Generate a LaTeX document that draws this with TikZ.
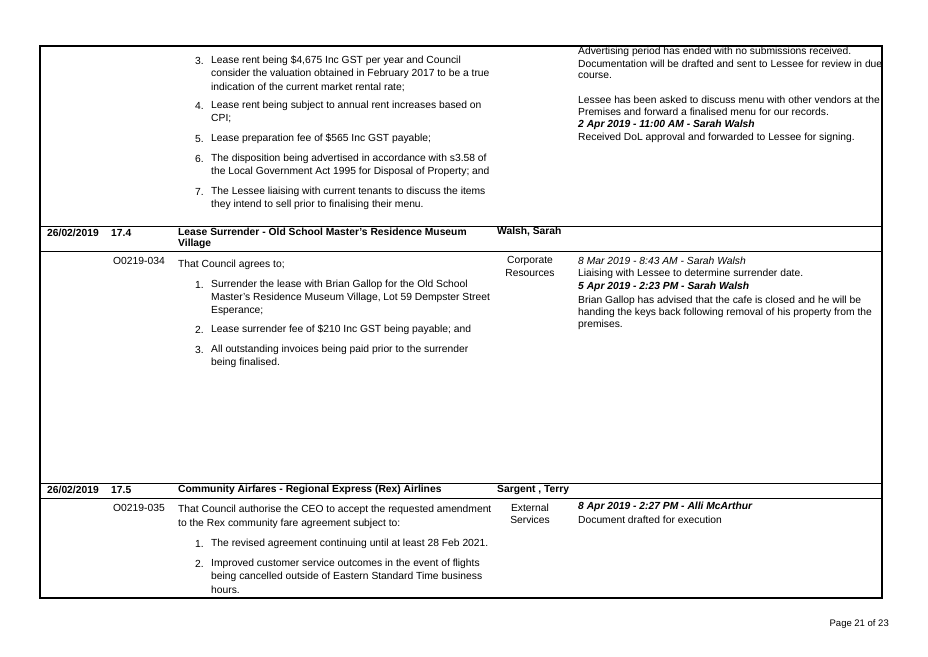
\documentclass[tikz,border=0pt]{standalone}
\usepackage{fontspec}
\setmainfont{Liberation Sans}
\begin{document}
\begin{tikzpicture}[x=1pt, y=-1pt]
    % Define styles
    \tikzset{
        txt/.style={anchor=west, inner sep=0pt, font=\fontsize{10.3}{12}\selectfont},
        hdr/.style={txt, font=\fontsize{10.3}{12}\selectfont\bfseries},
        note/.style={txt, font=\fontsize{10.3}{12}\selectfont\itshape},
        stamp/.style={txt, font=\fontsize{10.3}{12}\selectfont\bfseries\itshape},
        dept/.style={anchor=center, inner sep=0pt, font=\fontsize{10.3}{12}\selectfont},
        rule/.style={line width=0.8pt}
    }
    \useasboundingbox (0,0) rectangle (928,656);

    % Table frame and row rules
    \draw[line width=1.2pt] (40,46) rectangle (882,598);
    \draw[rule] (40,226) -- (882,226);
    \draw[rule] (40,251) -- (882,251);
    \draw[rule] (40,483) -- (882,483);
    \draw[rule] (40,498) -- (882,498);

    % Row 17.3 (continued)
    \foreach \n/\y in {a3/61, a4/106, a5/139, a6/159, a7/192}
        \coordinate (\n) at (195,\y);
    \node[txt] (n3) at (a3) {3.};
    \node[txt] (t3a) at (211,61) {Lease rent being \$4,675 Inc GST per year and Council};
    \node[txt] (t3b) at (211,74) {consider the valuation obtained in February 2017 to be a true};
    \node[txt] (t3c) at (211,87) {indication of the current market rental rate;};
    \node[txt] (n4) at (a4) {4.};
    \node[txt] (t4a) at (211,106) {Lease rent being subject to annual rent increases based on};
    \node[txt] (t4b) at (211,119) {CPI;};
    \node[txt] (n5) at (a5) {5.};
    \node[txt] (t5a) at (211,139) {Lease preparation fee of \$565 Inc GST payable;};
    \node[txt] (n6) at (a6) {6.};
    \node[txt] (t6a) at (211,159) {The disposition being advertised in accordance with s3.58 of};
    \node[txt] (t6b) at (211,172) {the Local Government Act 1995 for Disposal of Property; and};
    \node[txt] (n7) at (a7) {7.};
    \node[txt] (t7a) at (211,192) {The Lessee liaising with current tenants to discuss the items};
    \node[txt] (t7b) at (211,205) {they intend to sell prior to finalising their menu.};

    \node[txt] (c1) at (578,52) {Advertising period has ended with no submissions received.};
    \node[txt] (c2) at (578,64) {Documentation will be drafted and sent to Lessee for review in due};
    \node[txt] (c3) at (578,76) {course.};
    \node[txt] (c4) at (578,100) {Lessee has been asked to discuss menu with other vendors at the};
    \node[txt] (c5) at (578,112) {Premises and forward a finalised menu for our records.};
    \node[stamp] (c6) at (578,125) {2 Apr 2019 - 11:00 AM - Sarah Walsh};
    \node[txt] (c7) at (578,138) {Received DoL approval and forwarded to Lessee for signing.};

    % Row 17.4
    \node[hdr] (d4) at (47,233) {26/02/2019};
    \node[hdr] (i4) at (111,233) {17.4};
    \node[hdr] (h4a) at (178,232) {Lease Surrender - Old School Master's Residence Museum};
    \node[hdr] (h4b) at (178,244) {Village};
    \node[hdr] (o4) at (497,232) {Walsh, Sarah};

    \node[txt] (r4) at (113,261) {O0219-034};
    \node[txt] (s4) at (178,265) {That Council agrees to;};
    \node[txt] (m1) at (195,285) {1.};
    \node[txt] (m1a) at (211,285) {Surrender the lease with Brian Gallop for the Old School};
    \node[txt] (m1b) at (211,298) {Master's Residence Museum Village, Lot 59 Dempster Street};
    \node[txt] (m1c) at (211,311) {Esperance;};
    \node[txt] (m2) at (195,330) {2.};
    \node[txt] (m2a) at (211,330) {Lease surrender fee of \$210 Inc GST being payable; and};
    \node[txt] (m3) at (195,350) {3.};
    \node[txt] (m3a) at (211,350) {All outstanding invoices being paid prior to the surrender};
    \node[txt] (m3b) at (211,363) {being finalised.};
    \node[dept] (e4a) at (530,261) {Corporate};
    \node[dept] (e4b) at (530,273) {Resources};
    \node[note] (k1) at (578,261) {8 Mar 2019 - 8:43 AM - Sarah Walsh};
    \node[txt] (k2) at (578,274) {Liaising with Lessee to determine surrender date.};
    \node[stamp] (k3) at (578,287) {5 Apr 2019 - 2:23 PM - Sarah Walsh};
    \node[txt] (k4) at (578,301) {Brian Gallop has advised that the cafe is closed and he will be};
    \node[txt] (k5) at (578,313) {handing the keys back following removal of his property from the};
    \node[txt] (k6) at (578,325) {premises.};

    % Row 17.5
    \node[hdr] (d5) at (47,490) {26/02/2019};
    \node[hdr] (i5) at (111,490) {17.5};
    \node[hdr] (h5) at (178,490) {Community Airfares - Regional Express (Rex) Airlines};
    \node[hdr] (o5) at (497,490) {Sargent , Terry};

    \node[txt] (r5) at (113,508) {O0219-035};
    \node[txt] (s5a) at (178,510) {That Council authorise the CEO to accept the requested amendment};
    \node[txt] (s5b) at (178,524) {to the Rex community fare agreement subject to:};
    \node[txt] (p1) at (195,544) {1.};
    \node[txt] (p1a) at (211,544) {The revised agreement continuing until at least 28 Feb 2021.};
    \node[txt] (p2) at (195,564) {2.};
    \node[txt] (p2a) at (211,564) {Improved customer service outcomes in the event of flights};
    \node[txt] (p2b) at (211,577) {being cancelled outside of Eastern Standard Time business};
    \node[txt] (p2c) at (211,590) {hours.};
    \node[dept] (e5a) at (530,508) {External};
    \node[dept] (e5b) at (530,520) {Services};
    \node[stamp] (q1) at (578,507) {8 Apr 2019 - 2:27 PM - Alli McArthur};
    \node[txt] (q2) at (578,520) {Document drafted for execution};

    % Footer
    \node[txt, anchor=east, font=\fontsize{9.5}{11}\selectfont] (pg) at (889,624) {Page 21 of 23};
\end{tikzpicture}
\end{document}
